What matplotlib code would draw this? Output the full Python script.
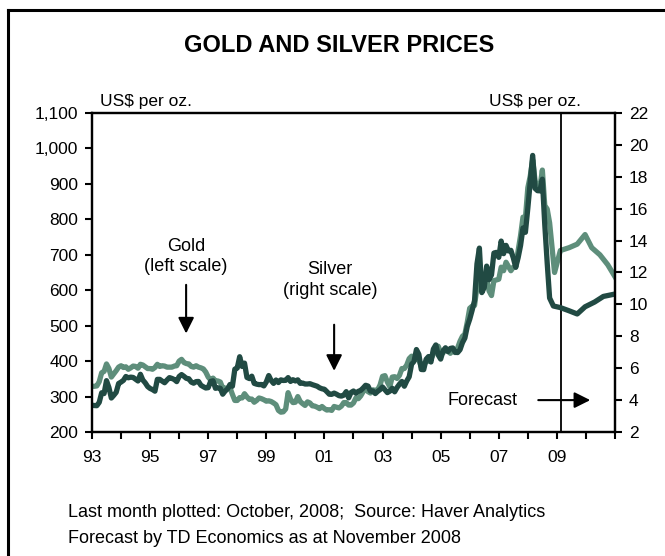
import numpy as np
import matplotlib
matplotlib.use("Agg")
import matplotlib.pyplot as plt
from matplotlib.lines import Line2D

plt.rcParams["font.family"] = ["Liberation Sans", "DejaVu Sans"]

GOLD_C = "#5e8e7b"
SILVER_C = "#214a43"

# monthly averages, Jan 1993 .. Oct 2008 (US$ per oz.)
gold = [
    329, 329, 330, 342, 367, 371, 392, 379, 355, 364, 373, 383,   # 1993
    387, 382, 384, 377, 381, 386, 385, 380, 391, 389, 384, 379,   # 1994
    379, 377, 382, 391, 385, 387, 386, 383, 383, 383, 386, 387,   # 1995
    400, 405, 396, 393, 392, 385, 383, 387, 383, 381, 378, 369,   # 1996
    355, 347, 352, 344, 344, 341, 324, 324, 323, 325, 306, 289,   # 1997
    289, 297, 296, 308, 299, 292, 293, 284, 289, 296, 294, 291,   # 1998
    287, 288, 286, 282, 277, 261, 256, 257, 265, 311, 293, 283,   # 1999
    284, 300, 286, 280, 275, 285, 282, 274, 273, 270, 266, 272,   # 2000
    266, 262, 263, 261, 272, 270, 268, 273, 283, 283, 276, 276,   # 2001
    282, 296, 294, 302, 314, 322, 314, 310, 319, 317, 319, 333,   # 2002
    357, 359, 341, 328, 355, 356, 351, 360, 379, 379, 389, 407,   # 2003
    414, 405, 406, 404, 384, 392, 398, 400, 406, 420, 439, 442,   # 2004
    424, 423, 434, 429, 422, 430, 424, 437, 456, 470, 476, 510,   # 2005
    549, 555, 557, 610, 676, 596, 633, 632, 598, 585, 627, 629,   # 2006
    631, 665, 655, 679, 667, 655, 665, 665, 712, 754, 806, 803,   # 2007
    889, 922, 968, 909, 888, 890, 939, 839, 829, 790,             # 2008
]
silver = [
    3.68, 3.66, 3.65, 3.86, 4.46, 4.41, 5.22, 4.79, 4.13, 4.30, 4.49, 5.04,
    5.13, 5.24, 5.48, 5.40, 5.44, 5.42, 5.31, 5.20, 5.62, 5.26, 5.08, 4.85,
    4.73, 4.66, 4.56, 5.30, 5.30, 5.19, 5.09, 5.26, 5.41, 5.36, 5.29, 5.16,
    5.48, 5.60, 5.49, 5.36, 5.34, 5.13, 5.06, 5.16, 5.17, 4.93, 4.84, 4.76,
    4.78, 5.17, 5.21, 4.74, 4.77, 4.74, 4.37, 4.57, 4.70, 4.98, 4.87, 5.94,
    6.01, 6.72, 6.11, 6.32, 5.42, 5.35, 5.50, 5.05, 5.00, 4.97, 4.98, 4.89,
    5.14, 5.54, 5.23, 5.05, 5.26, 5.10, 5.27, 5.23, 5.24, 5.41, 5.17, 5.28,
    5.20, 5.27, 5.05, 5.07, 5.01, 5.01, 5.03, 4.97, 4.92, 4.87, 4.77, 4.71,
    4.68, 4.53, 4.37, 4.36, 4.44, 4.37, 4.28, 4.25, 4.31, 4.53, 4.14, 4.48,
    4.57, 4.43, 4.55, 4.61, 4.76, 4.93, 4.88, 4.56, 4.57, 4.41, 4.55, 4.66,
    4.82, 4.65, 4.47, 4.56, 4.74, 4.52, 4.79, 5.00, 5.17, 4.87, 5.20, 5.46,
    6.25, 6.43, 7.17, 6.87, 5.92, 5.91, 6.56, 6.73, 6.39, 7.20, 7.46, 6.83,
    6.57, 7.09, 7.28, 7.04, 7.24, 7.27, 7.00, 6.98, 7.16, 7.60, 7.89, 8.62,
    9.07, 9.63, 10.24, 12.54, 13.53, 10.74, 11.06, 12.40, 11.55, 11.85, 13.22, 13.26,
    12.95, 13.97, 13.18, 13.70, 13.35, 13.39, 12.92, 12.33, 12.93, 13.69, 14.79, 14.52,
    16.03, 17.70, 19.34, 17.27, 17.13, 17.12, 17.85, 15.00, 12.60, 10.40,
]

# late 2008 estimate + TD forecast path
gold_fc_t = [2008.92, 2009.12, 2009.42, 2009.70, 2009.97, 2010.20, 2010.48, 2010.75, 2011.0]
gold_fc = [650, 712, 720, 730, 757, 720, 700, 672, 638]
silver_fc_t = [2008.88, 2009.12, 2009.42, 2009.70, 2009.97, 2010.30, 2010.60, 2011.0]
silver_fc = [9.9, 9.8, 9.6, 9.4, 9.85, 10.15, 10.5, 10.65]

months = 1993 + np.arange(len(gold)) / 12.0
gold_t = np.concatenate([months, gold_fc_t])
gold_v = np.concatenate([gold, gold_fc])
silver_t = np.concatenate([months, silver_fc_t])
silver_v = np.concatenate([silver, silver_fc])

fig = plt.figure(figsize=(6.65, 5.56), dpi=100)
ax = fig.add_axes([0.1383, 0.223, 0.7865, 0.5738])
ax2 = ax.twinx()

ax.plot(gold_t, gold_v, color=GOLD_C, lw=3.8, solid_joinstyle="round")
ax2.plot(silver_t, silver_v, color=SILVER_C, lw=3.8, solid_joinstyle="round")

ax.set_xlim(1993, 2011)
ax.set_ylim(200, 1100)
ax2.set_ylim(2, 22)
ax.set_yticks(np.arange(200, 1101, 100))
ax.set_yticklabels([f"{v:,}" for v in range(200, 1101, 100)])
ax2.set_yticks(np.arange(2, 23, 2))

years = np.arange(1993, 2012)
ax.set_xticks(years)
ax.set_xticklabels([f"{y % 100:02d}" if (y - 1993) % 2 == 0 and y <= 2009 else "" for y in years])

for a in (ax, ax2):
    for s in a.spines.values():
        s.set_linewidth(1.6)
    a.tick_params(width=1.5, length=5, labelsize=12.5, pad=5)
ax.tick_params(axis="x", pad=8)

ax.axvline(2009.15, color="black", lw=1.3)

ax.text(0.18, 0.55, "Gold\n(left scale)", transform=ax.transAxes, ha="center",
        va="center", fontsize=13, linespacing=1.3)
ax.annotate("", xy=(0.18, 0.30), xytext=(0.18, 0.47), xycoords="axes fraction",
            arrowprops=dict(arrowstyle="-|>", color="black", lw=1.5, mutation_scale=24))
ax.text(0.455, 0.476, "Silver\n(right scale)", transform=ax.transAxes, ha="center",
        va="center", fontsize=13, linespacing=1.3)
ax.annotate("", xy=(0.463, 0.183), xytext=(0.463, 0.345), xycoords="axes fraction",
            arrowprops=dict(arrowstyle="-|>", color="black", lw=1.5, mutation_scale=24))
ax.text(0.746, 0.1, "Forecast", transform=ax.transAxes, ha="center", va="center",
        fontsize=13)
ax.annotate("", xy=(0.958, 0.1), xytext=(0.848, 0.1), xycoords="axes fraction",
            arrowprops=dict(arrowstyle="-|>", color="black", lw=1.5, mutation_scale=24))

fig.text(0.15, 0.818, "US$ per oz.", ha="left", va="center", fontsize=12.5)
fig.text(0.874, 0.818, "US$ per oz.", ha="right", va="center", fontsize=12.5)
fig.text(0.51, 0.919, "GOLD AND SILVER PRICES", ha="center", va="center",
         fontsize=17, fontweight="bold")
fig.text(0.102, 0.079, "Last month plotted: October, 2008;  Source: Haver Analytics",
         ha="left", va="center", fontsize=13)
fig.text(0.102, 0.032, "Forecast by TD Economics as at November 2008",
         ha="left", va="center", fontsize=13)

# outer frame (left and top edges only show in the crop)
fig.add_artist(Line2D([0.012, 0.012], [0, 0.982], color="black", lw=2.2))
fig.add_artist(Line2D([0.012, 1.0], [0.982, 0.982], color="black", lw=2.2))

fig.savefig("out.png", dpi=100)
